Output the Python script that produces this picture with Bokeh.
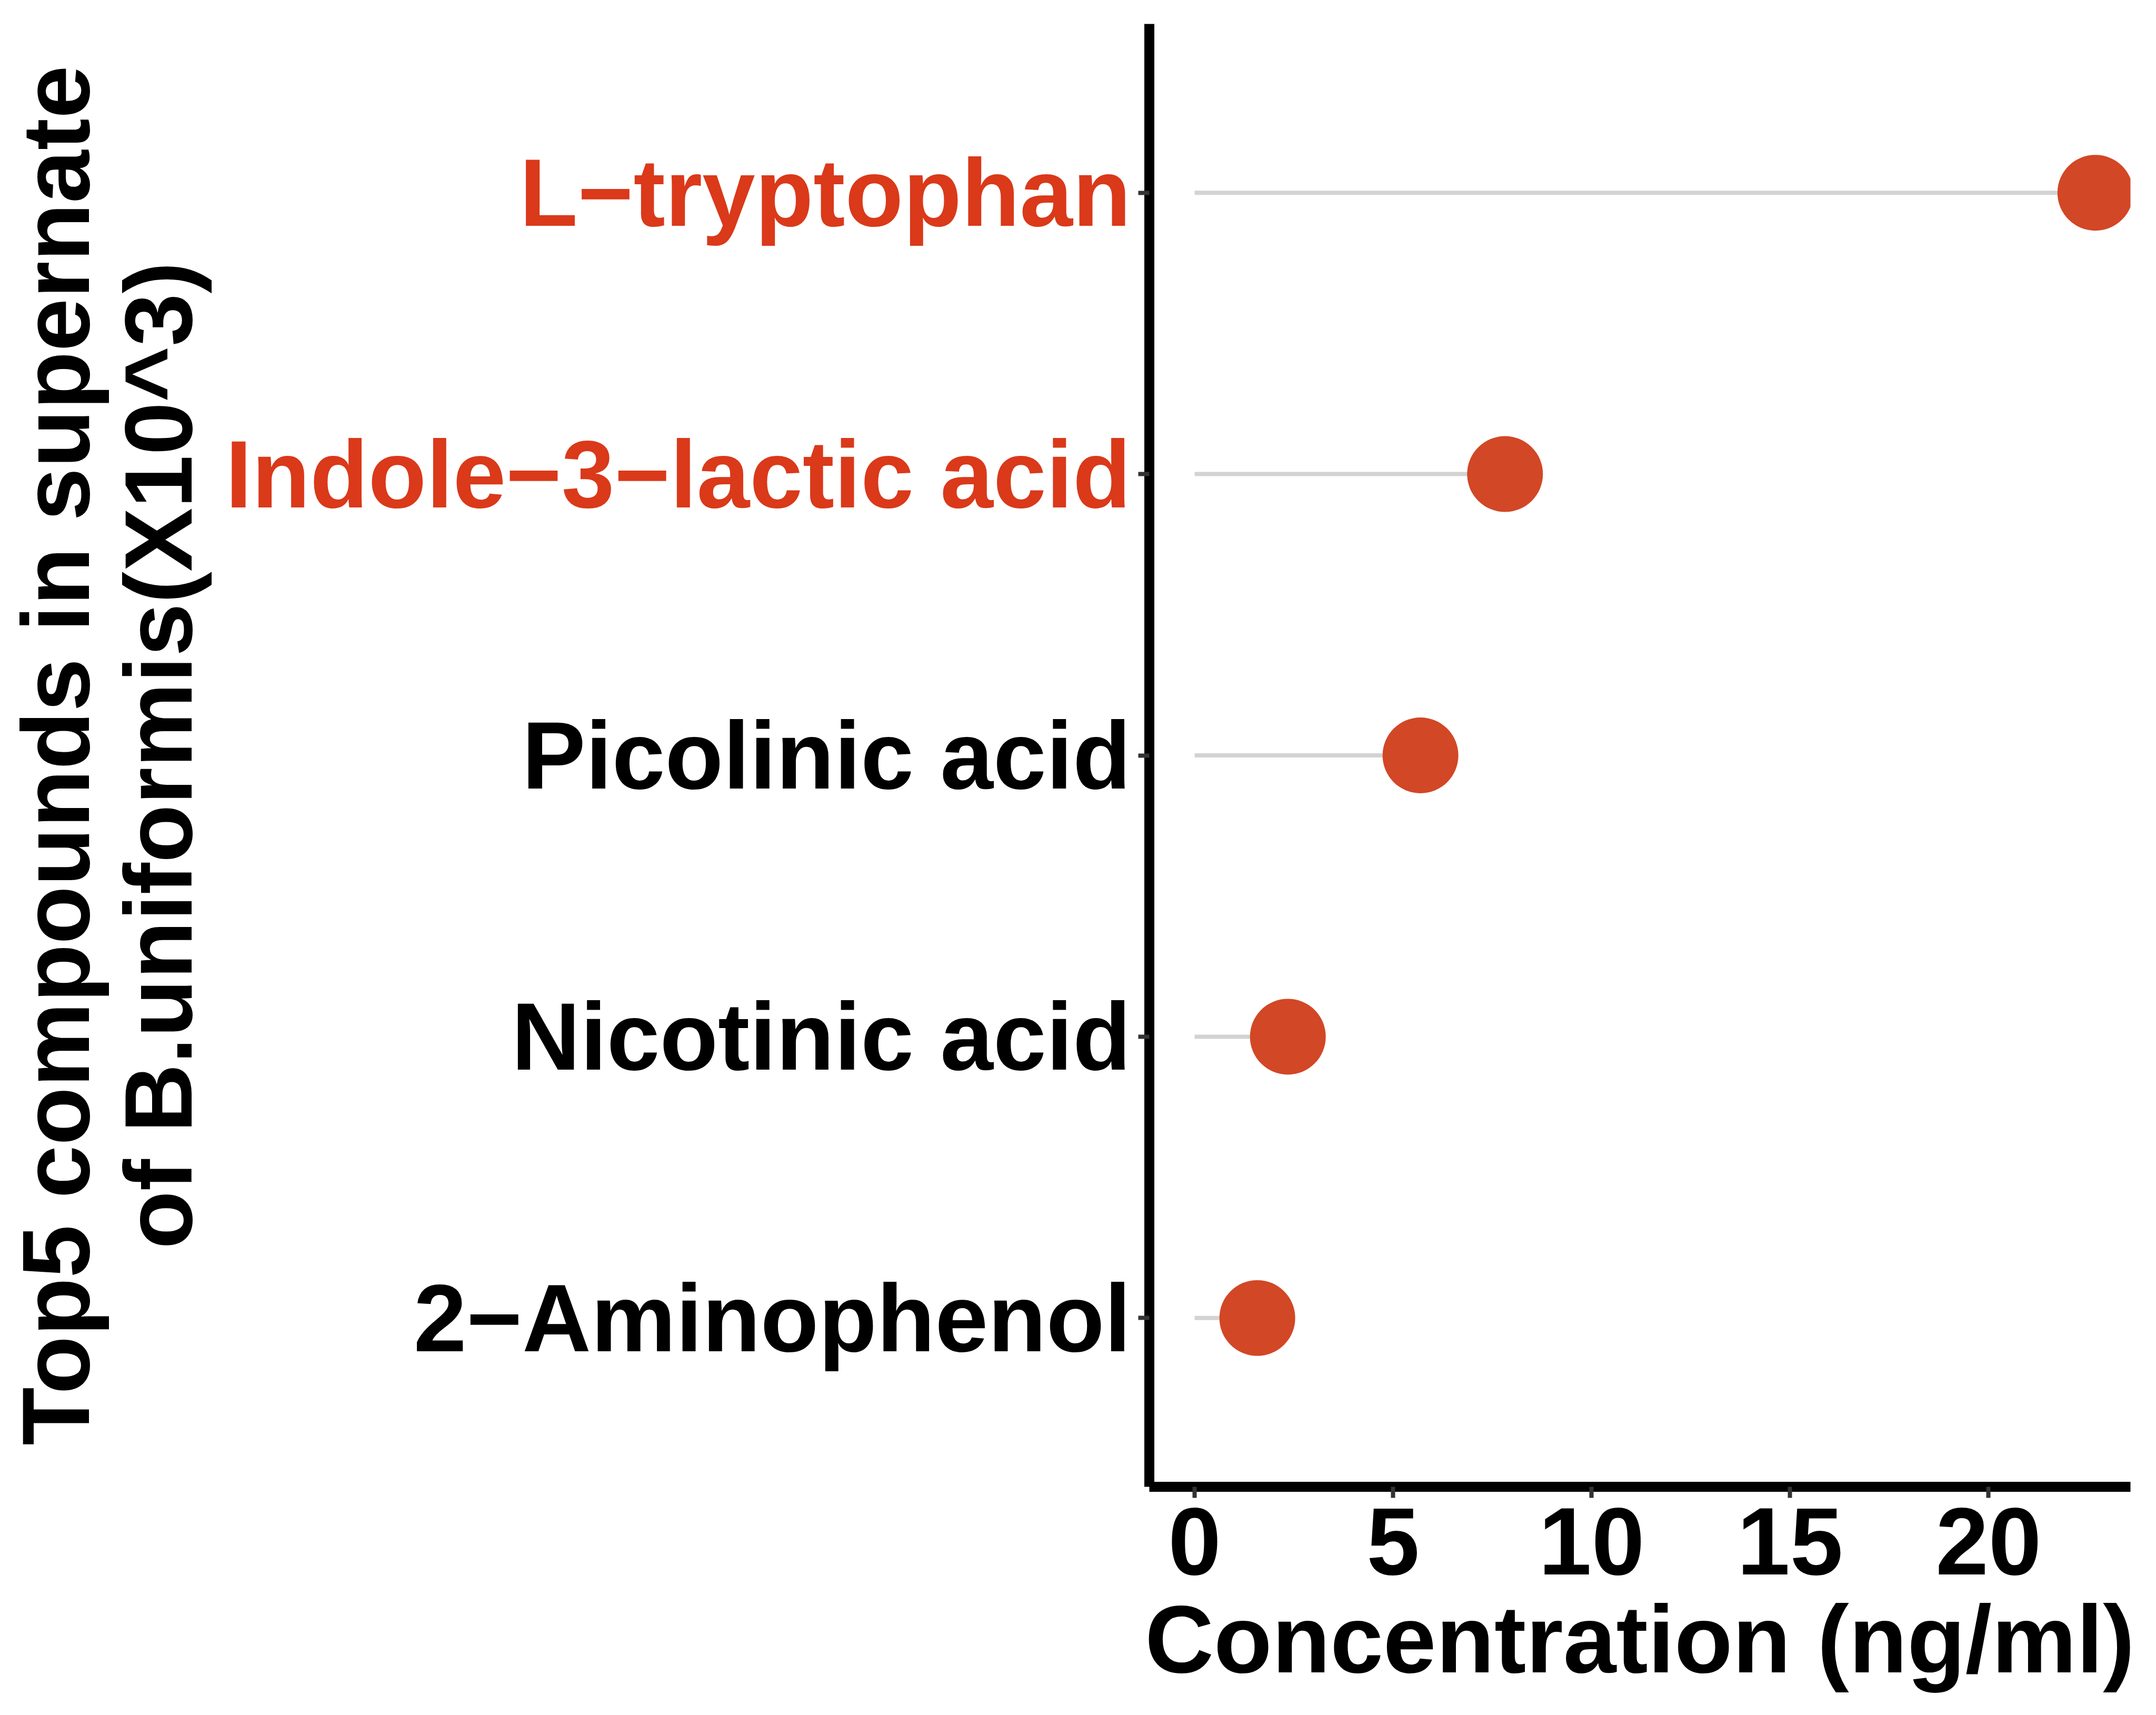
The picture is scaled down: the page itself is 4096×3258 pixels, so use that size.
import math
from bokeh.plotting import figure
from bokeh.layouts import row
from bokeh.models import Range1d, FixedTicker, ColumnDataSource
from bokeh.core.properties import value
from bokeh.embed import file_html
from bokeh.resources import INLINE

# ---- data ----
compounds = ["2\u2212Aminophenol", "Nicotinic acid", "Picolinic acid",
             "Indole\u22123\u2212lactic acid", "L\u2212tryptophan"]
concentration = [1.58, 2.35, 5.69, 7.82, 22.69]
highlighted = [False, False, False, True, True]
x_ticks = [0, 5, 10, 15, 20]
x_title = "Concentration (ng/ml)"
y_title_lines = ["Top5 compounds in supernate", "of B.uniformis(X10^3)"]

# ---- style ----
FONT = "Liberation Sans"
FS = "181px"
DOT = "#D24726"
RED_TXT = "#DA391A"
SEG = "#D3D3D3"

positions = list(range(1, len(compounds) + 1))
label_colors = [RED_TXT if h else "black" for h in highlighted]
src = ColumnDataSource(dict(y=positions, x=concentration))

FRAME_H = 2779
TOP, BOTTOM = 45, 418
LEFT_W = 2153

y_range = Range1d(0.4, 5.6)

# ---- main panel ----
p = figure(width=1935, height=TOP + FRAME_H + BOTTOM, frame_width=1864, frame_height=FRAME_H,
           x_range=Range1d(-1.14, 23.575), y_range=y_range,
           output_backend="svg", toolbar_location=None,
           min_border_left=30, min_border_right=41,
           min_border_top=TOP, min_border_bottom=BOTTOM)
p.outline_line_color = None
p.xgrid.visible = False
p.ygrid.visible = False

p.segment(x0=0, y0="y", x1="x", y1="y", source=src, line_color=SEG, line_width=8)
p.scatter(x="x", y="y", source=src, size=144, fill_color=DOT, line_color=None)

xa = p.xaxis[0]
xa.ticker = FixedTicker(ticks=x_ticks)
xa.axis_line_width = 19
xa.axis_line_color = "black"
xa.major_tick_line_color = "#333333"
xa.major_tick_line_width = 8
xa.major_tick_out = 21
xa.major_tick_in = 0
xa.minor_tick_line_color = None
xa.major_label_text_font = FONT
xa.major_label_text_font_style = "bold"
xa.major_label_text_font_size = FS
xa.major_label_text_color = "black"
xa.major_label_standoff = 19
xa.axis_label = x_title
xa.axis_label_text_font = FONT
xa.axis_label_text_font_style = "bold"
xa.axis_label_text_font_size = FS
xa.axis_label_text_color = "black"
xa.axis_label_standoff = 19

ya = p.yaxis[0]
ya.ticker = FixedTicker(ticks=positions)
ya.axis_line_width = 19
ya.axis_line_color = "black"
ya.major_tick_line_color = "#333333"
ya.major_tick_line_width = 8
ya.major_tick_out = 21
ya.major_tick_in = 0
ya.minor_tick_line_color = None
ya.major_label_standoff = 0
ya.major_label_overrides = {i: "" for i in positions}

# ---- left strip holding the coloured category labels and the y title ----
lp = figure(width=LEFT_W, height=TOP + FRAME_H + BOTTOM, frame_width=LEFT_W, frame_height=FRAME_H,
            x_range=Range1d(0, LEFT_W), y_range=y_range,
            x_axis_type=None, y_axis_type=None,
            output_backend="svg", toolbar_location=None,
            min_border_left=0, min_border_right=0,
            min_border_top=TOP, min_border_bottom=BOTTOM)
lp.outline_line_color = None
lp.xgrid.visible = False
lp.ygrid.visible = False

lsrc = ColumnDataSource(dict(y=positions, name=compounds, color=label_colors,
                             x=[LEFT_W - 5] * len(positions)))
lp.text(x="x", y="y", text="name", source=lsrc, text_color="color",
        text_align="right", text_baseline="middle",
        text_font=value(FONT), text_font_style="bold", text_font_size=FS)

y_mid = (y_range.start + y_range.end) / 2
tsrc = ColumnDataSource(dict(x=[105, 300], y=[y_mid, y_mid], t=y_title_lines))
lp.text(x="x", y="y", text="t", source=tsrc, angle=math.pi / 2,
        text_align="center", text_baseline="alphabetic", text_color="black",
        text_font=value(FONT), text_font_style="bold", text_font_size=FS)

layout = row(lp, p, spacing=0)
open("out.html", "w").write(file_html(layout, INLINE))
